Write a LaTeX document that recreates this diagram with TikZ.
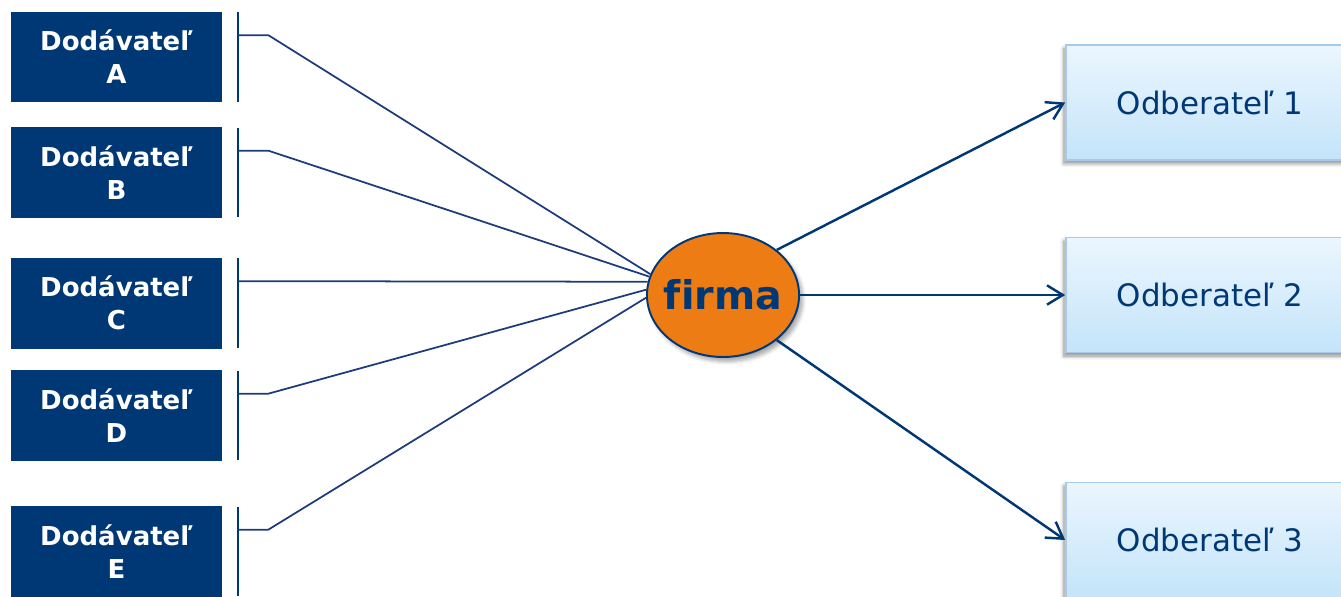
\documentclass[tikz,border=0pt]{standalone}
\usepackage{fontspec}
\setmainfont[Ligatures=NoCommon]{DejaVu Sans}
\usetikzlibrary{positioning,calc,shapes.geometric,shadows.blur,arrows.meta}
\definecolor{dodblue}{HTML}{003876}
\definecolor{linkblue}{HTML}{1C3C7C}
\definecolor{firmorange}{HTML}{EC7C13}
\definecolor{odbtop}{HTML}{EBF6FE}
\definecolor{odbbottom}{HTML}{C4E4FA}
\definecolor{odbborder}{HTML}{A6CBEA}

\begin{document}
\begin{tikzpicture}[x=0.02cm, y=-0.02cm, >={Straight Barb[length=9pt,width=11pt]},
    dod/.style={rectangle, fill=dodblue, minimum width=4.22cm, minimum height=1.82cm, inner sep=0pt,
        text=white, align=center, font=\bfseries\fontsize{14.8}{18.8}\selectfont},
    odb/.style={rectangle, draw=odbborder, line width=1pt, top color=odbtop, bottom color=odbbottom,
        minimum width=5.76cm, minimum height=2.3cm, text=dodblue, font=\fontsize{17.6}{20}\selectfont,
        blur shadow={shadow xshift=-1.2pt, shadow yshift=-2pt, shadow blur steps=6, shadow opacity=45}},
    bar/.style={draw=dodblue, line width=1pt},
    link/.style={draw=linkblue, line width=1pt},
    pfeil/.style={->, draw=dodblue, line width=1.4pt}]

    \useasboundingbox (0,0) rectangle (1341,596);

    % Dodavatelia
    \node (dA) [dod] at (116.5,57) {Dodávateľ\\A};
    \node (dB) [dod] at (116.5,172.5) {Dodávateľ\\B};
    \node (dC) [dod] at (116.5,303) {Dodávateľ\\C};
    \node (dD) [dod] at (116.5,415.5) {Dodávateľ\\D};
    \node (dE) [dod] at (116.5,551.5) {Dodávateľ\\E};

    % Firma
    \node (firma) [ellipse, draw=dodblue, line width=1.1pt, fill=firmorange, inner xsep=-3pt, inner ysep=0pt,
        minimum width=3.02cm, minimum height=2.48cm,
        text=dodblue, font=\bfseries\fontsize{22.5}{26}\selectfont,
        blur shadow={shadow xshift=2pt, shadow yshift=-2.5pt, shadow blur steps=6, shadow opacity=35}] at (723,295) {firma};

    % Odberatelia
    \node (o1) [odb] at (1210,102.5) {Odberateľ 1};
    \node (o2) [odb] at (1210,295) {Odberateľ 2};
    \node (o3) [odb] at (1210,540) {Odberateľ 3};

    % Zvisle ciary
    \draw[bar] ($(dA.north east)+(16,1)$) -- ($(dA.south east)+(16,-1)$);
    \draw[bar] ($(dB.north east)+(16,1)$) -- ($(dB.south east)+(16,-1)$);
    \draw[bar] ($(dC.north east)+(16,1)$) -- ($(dC.south east)+(16,-1)$);
    \draw[bar] ($(dD.north east)+(16,1)$) -- ($(dD.south east)+(16,-1)$);
    \draw[bar] ($(dE.north east)+(16,1)$) -- ($(dE.south east)+(16,-1)$);

    % Vstupy do firmy
    \coordinate (pA) at ($(dA.north east)+(16,24)$);
    \coordinate (pB) at ($(dB.north east)+(16,24)$);
    \coordinate (pC) at ($(dC.north east)+(16,24)$);
    \coordinate (pD) at ($(dD.north east)+(16,24)$);
    \coordinate (pE) at ($(dE.north east)+(16,24)$);
    \draw[link] (pA) -- ++(30,0) -- (firma.164);
    \draw[link] (pB) -- ++(30,0) -- (firma.166);
    \draw[link] (pC) -- (firma.170);
    \draw[link] (pD) -- ++(30,0) -- (firma.176);
    \draw[link] (pE) -- ++(30,0) -- (firma.182);

    % Vystupy
    \draw[pfeil] (firma.40) -- (o1.west);
    \draw[pfeil] (firma.east) -- (o2.west);
    \draw[pfeil] (firma.-40) -- (o3.west);

\end{tikzpicture}
\end{document}
